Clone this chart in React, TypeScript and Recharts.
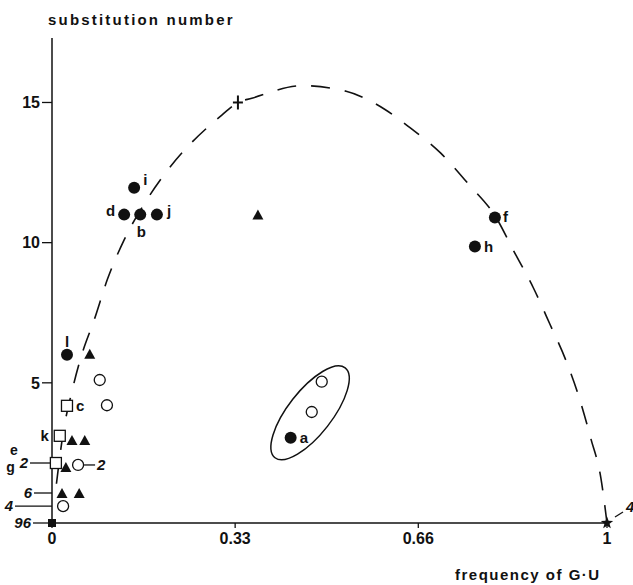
import React from 'react';
import { ComposedChart, XAxis, YAxis, Scatter, Line } from 'recharts';

const FONT = '"Liberation Sans", Arial, Helvetica, sans-serif';
const INK = '#111';

// dashed guide curve
const curveX = [0.008, 0.02, 0.036, 0.052, 0.077, 0.1, 0.13, 0.17, 0.205, 0.306, 0.335, 0.36, 0.45, 0.53, 0.6, 0.645, 0.7, 0.75, 0.8, 0.832, 0.867, 0.897, 0.926, 0.951, 0.971, 0.989, 1.0];
const curveY = [1.4, 3.2, 4.7, 5.9, 7.3, 8.7, 10.1, 11.5, 12.5, 14.55, 15.0, 15.15, 15.6, 15.4, 14.75, 14.1, 13.2, 12.1, 10.9, 9.7, 8.4, 7.1, 5.8, 4.4, 3.0, 1.6, 0];

// filled circles
const filledX = [0.148, 0.13, 0.159, 0.189, 0.798, 0.762, 0.027, 0.43];
const filledY = [11.96, 11, 11, 11, 10.9, 9.86, 6.0, 3.04];
const filledLabels = ['i', 'd', 'b', 'j', 'f', 'h', 'l', 'a'];

// filled triangles
const triX = [0.371, 0.068, 0.036, 0.059, 0.025, 0.018, 0.049];
const triY = [11, 6.04, 2.96, 2.96, 2.0, 1.07, 1.07];

// open circles
const openX = [0.086, 0.099, 0.047, 0.02, 0.486, 0.468];
const openY = [5.1, 4.2, 2.07, 0.6, 5.04, 3.96];
const openLabels = ['', '', '2', '', '', ''];

// open squares
const sqX = [0.027, 0.014, 0.007];
const sqY = [4.18, 3.11, 2.14];
const sqLabels = ['c', 'k', 'e,g'];

// single marks
const originX = [0];
const originY = [0];
const crossX = [0.335];
const crossY = [15];
const starX = [1];
const starY = [0];
const starLabel = '4';
const ringX = [0.465];
const ringY = [3.93];

// italic counts written left of the y axis
const noteY = [0, 0.6, 1.07, 2.14];
const noteText = ['96', '4', '6', '2'];

const xTicks = [0, 0.33, 0.66, 1];
const yTicks = [5, 10, 15];

const curve = curveX.map((x, i) => ({ x, y: curveY[i] }));
const filled = filledX.map((x, i) => ({ x, y: filledY[i], label: filledLabels[i] }));
const tris = triX.map((x, i) => ({ x, y: triY[i] }));
const opens = openX.map((x, i) => ({ x, y: openY[i], label: openLabels[i] }));
const squares = sqX.map((x, i) => ({ x, y: sqY[i], label: sqLabels[i] }));
const origin = originX.map((x, i) => ({ x, y: originY[i] }));
const cross = crossX.map((x, i) => ({ x, y: crossY[i] }));
const star = starX.map((x, i) => ({ x, y: starY[i], label: starLabel }));
const ring = ringX.map((x, i) => ({ x, y: ringY[i] }));
const notes = noteY.map((y, i) => ({ x: 0, y, text: noteText[i] }));

// where each letter sits relative to its mark
const LABEL_POS: Record<string, { dx: number; dy: number; anchor: 'start' | 'middle' | 'end' }> = {
  i: { dx: 9, dy: -3, anchor: 'start' },
  d: { dx: -9, dy: 1, anchor: 'end' },
  b: { dx: 1, dy: 22, anchor: 'middle' },
  j: { dx: 10, dy: 1, anchor: 'start' },
  f: { dx: 8, dy: 5, anchor: 'start' },
  h: { dx: 9, dy: 5, anchor: 'start' },
  l: { dx: 0, dy: -8, anchor: 'middle' },
  a: { dx: 9, dy: 5, anchor: 'start' },
  c: { dx: 9, dy: 5, anchor: 'start' },
  k: { dx: -11, dy: 5, anchor: 'end' },
  g: { dx: -41, dy: 9, anchor: 'end' },
  e: { dx: -38, dy: -8, anchor: 'end' },
};

const NOTE_LEAD: Record<string, number> = { '96': 19, '4': 37, '6': 18, '2': 22 };

const Letter = ({ cx, cy, label }: { cx: number; cy: number; label: string }) => {
  if (!label) return null;
  return (
    <>
      {label.split(',').map((l) => {
        const p = LABEL_POS[l];
        if (!p) return null;
        return (
          <text key={l} x={cx + p.dx} y={cy + p.dy} textAnchor={p.anchor} fontFamily={FONT} fontWeight={700} fontSize={l === 'e' || l === 'g' ? 14 : 15} fill={INK}>
            {l}
          </text>
        );
      })}
    </>
  );
};

const FilledDot = (props: any) => {
  const { cx, cy, payload } = props;
  return (
    <g>
      <circle cx={cx} cy={cy} r={6} fill={INK} />
      <Letter cx={cx} cy={cy} label={payload.label} />
    </g>
  );
};

const Triangle = (props: any) => {
  const { cx, cy } = props;
  return <polygon points={`${cx - 5.5},${cy + 5} ${cx + 5.5},${cy + 5} ${cx},${cy - 5}`} fill={INK} />;
};

const OpenDot = (props: any) => {
  const { cx, cy, payload } = props;
  return (
    <g>
      <circle cx={cx} cy={cy} r={5.5} fill="#fff" stroke={INK} strokeWidth={1.3} />
      {payload.label && (
        <>
          <line x1={cx + 6} y1={cy} x2={cx + 17} y2={cy} stroke={INK} strokeWidth={1.3} />
          <text x={cx + 19} y={cy + 5} fontFamily={FONT} fontWeight={700} fontStyle="italic" fontSize={15} fill={INK}>
            {payload.label}
          </text>
        </>
      )}
    </g>
  );
};

const OpenSquare = (props: any) => {
  const { cx, cy, payload } = props;
  return (
    <g>
      <rect x={cx - 5.5} y={cy - 5.5} width={11} height={11} fill="#fff" stroke={INK} strokeWidth={1.3} />
      <Letter cx={cx} cy={cy} label={payload.label} />
    </g>
  );
};

const FilledSquare = (props: any) => {
  const { cx, cy } = props;
  return <rect x={cx - 4} y={cy - 4} width={8} height={8} fill={INK} />;
};

const Cross = (props: any) => {
  const { cx, cy } = props;
  return (
    <g stroke={INK} strokeWidth={2}>
      <line x1={cx - 5} y1={cy} x2={cx + 5} y2={cy} />
      <line x1={cx} y1={cy - 7} x2={cx} y2={cy + 7} />
    </g>
  );
};

const Star = (props: any) => {
  const { cx, cy, payload } = props;
  const pts: string[] = [];
  for (let k = 0; k < 10; k++) {
    const r = k % 2 === 0 ? 6.5 : 2.7;
    const a = -Math.PI / 2 + (k * Math.PI) / 5;
    pts.push(`${cx + r * Math.cos(a)},${cy + r * Math.sin(a)}`);
  }
  return (
    <g>
      <polygon points={pts.join(' ')} fill={INK} />
      <line x1={cx + 8} y1={cy - 6} x2={cx + 16} y2={cy - 11} stroke={INK} strokeWidth={1.3} />
      <text x={cx + 19} y={cy - 11} fontFamily={FONT} fontWeight={700} fontStyle="italic" fontSize={15} fill={INK}>
        {payload.label}
      </text>
    </g>
  );
};

const Ring = (props: any) => {
  const { cx, cy } = props;
  return (
    <ellipse cx={cx} cy={cy} rx={57} ry={22} transform={`rotate(-52 ${cx} ${cy})`} fill="none" stroke={INK} strokeWidth={1.5} />
  );
};

const Note = (props: any) => {
  const { cx, cy, payload } = props;
  const len = NOTE_LEAD[payload.text] ?? 19;
  return (
    <g>
      <line x1={cx - len} y1={cy} x2={cx} y2={cy} stroke={INK} strokeWidth={1.3} />
      <text x={cx - len - 2} y={cy + 5} textAnchor="end" fontFamily={FONT} fontWeight={700} fontStyle="italic" fontSize={15} fill={INK}>
        {payload.text}
      </text>
    </g>
  );
};

const tickStyle = { fontFamily: FONT, fontWeight: 700, fontSize: 16, fill: INK };

export default function App() {
  return (
    <div style={{ position: 'absolute', left: 0, top: 0, width: 633, height: 585, background: '#fff' }}>
      <ComposedChart width={633} height={585} margin={{ top: 38, right: 26, bottom: 0, left: 0 }}>
        <XAxis
          type="number"
          dataKey="x"
          domain={[0, 1]}
          ticks={xTicks}
          tickFormatter={(v: number) => String(v)}
          height={62}
          tickSize={5}
          tickMargin={5}
          axisLine={{ stroke: INK, strokeWidth: 1.5 }}
          tickLine={{ stroke: INK, strokeWidth: 1.3 }}
          tick={tickStyle}
        />
        <YAxis
          type="number"
          dataKey="y"
          domain={[0, 17.3]}
          ticks={yTicks}
          width={52}
          tickSize={10}
          tickMargin={2}
          axisLine={{ stroke: INK, strokeWidth: 1.5 }}
          tickLine={{ stroke: INK, strokeWidth: 1.3 }}
          tick={tickStyle}
        />
        <Line
          data={curve}
          dataKey="y"
          type="monotone"
          dot={false}
          activeDot={false}
          stroke={INK}
          strokeWidth={1.6}
          strokeDasharray="19 15"
          isAnimationActive={false}
        />
        <Scatter data={ring} dataKey="y" shape={Ring} isAnimationActive={false} />
        <Scatter data={notes} dataKey="y" shape={Note} isAnimationActive={false} />
        <Scatter data={origin} dataKey="y" shape={FilledSquare} isAnimationActive={false} />
        <Scatter data={tris} dataKey="y" shape={Triangle} isAnimationActive={false} />
        <Scatter data={opens} dataKey="y" shape={OpenDot} isAnimationActive={false} />
        <Scatter data={squares} dataKey="y" shape={OpenSquare} isAnimationActive={false} />
        <Scatter data={filled} dataKey="y" shape={FilledDot} isAnimationActive={false} />
        <Scatter data={cross} dataKey="y" shape={Cross} isAnimationActive={false} />
        <Scatter data={star} dataKey="y" shape={Star} isAnimationActive={false} />
      </ComposedChart>
      <div
        style={{ position: 'absolute', left: 48, top: 12, fontFamily: FONT, fontWeight: 700, fontSize: 15, lineHeight: '15px', letterSpacing: 2.2, color: INK, whiteSpace: 'nowrap' }}
      >
        substitution number
      </div>
      <div
        style={{ position: 'absolute', left: 455, top: 567, fontFamily: FONT, fontWeight: 700, fontSize: 15, lineHeight: '15px', letterSpacing: 1.5, color: INK, whiteSpace: 'nowrap' }}
      >
        frequency of G·U
      </div>
    </div>
  );
}
